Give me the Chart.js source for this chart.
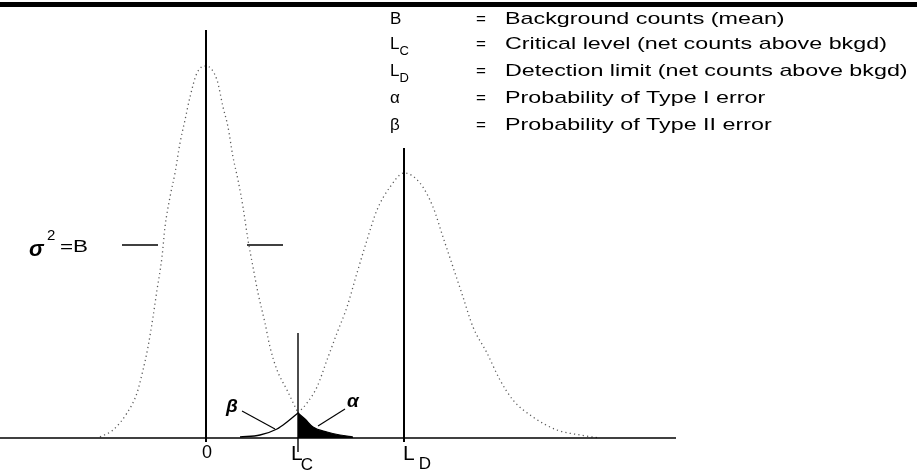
<!DOCTYPE html>
<html>
<head>
<meta charset="utf-8">
<script src="https://cdn.jsdelivr.net/npm/chart.js@4/dist/chart.umd.min.js"></script>
<style>
  html, body { margin: 0; padding: 0; background: #fff; }
  #wrap { width: 917px; height: 474px; position: relative; }
</style>
</head>
<body>
<div id="wrap"><canvas id="myChart"></canvas></div>
<script>
// x = distance from the background mean, y = height above the baseline (diagram units)

const bkgX = [-106, -93, -79, -69, -63, -58, -53, -49, -44, -41, -36, -31, -26, -21, -16, -9, 0, 11, 17, 22, 27, 32, 37, 42, 47, 52, 59, 64, 71, 81, 92];
const bkgY = [1, 8, 25, 45, 68, 91, 121, 148, 181, 211, 241, 265, 295, 318, 341, 365, 372, 358, 331, 311, 281, 258, 231, 198, 171, 145, 115, 91, 68, 48, 25];

// gross distribution (mean L_D), from L_C onwards
const grossX = [92, 101, 111, 121, 131, 141, 151, 161, 171, 184, 198, 214, 227, 237, 247, 257, 267, 281, 294, 307, 327, 351, 374, 394];
const grossY = [25, 35, 51, 78, 105, 131, 165, 198, 228, 251, 265, 255, 231, 201, 171, 141, 111, 85, 58, 38, 21, 8, 3, 0];

// alpha tail (background above L_C), shaded
const alphaX = [92, 99, 107, 121, 134, 147];
const alphaY = [25, 19, 11, 6, 3, 1];

// beta tail (gross below L_C), solid
const betaX = [34, 54, 71, 81, 92];
const betaY = [1, 3, 9, 16, 25];

// marked positions on the axis
const markX = [0, 92, 198];
const markLabels = ["0", "L|C", "L|D"];
const markTop = [408, 105, 290];
const markBottom = [-4, -14, -4];

// half-height ticks for sigma^2 = B
const sigmaY = 193;
const sigmaTicks = [[-84, -48], [41, 77]];

// legend
const legendSymbols = ["B", "L|C", "L|D", "α", "β"];
const legendTexts = [
  "Background counts (mean)",
  "Critical level (net counts above bkgd)",
  "Detection limit (net counts above bkgd)",
  "Probability of Type I error",
  "Probability of Type II error",
];

const toPoints = (xs, ys) => xs.map((x, i) => ({ x: x, y: ys[i] }));

const solid = (data, width) => ({
  data: data,
  borderColor: "#000",
  borderWidth: width,
  fill: false,
  pointRadius: 0,
});

const dotted = (data) => ({
  data: data,
  borderColor: "#5a5a5a",
  borderWidth: 1.3,
  borderDash: [1.2, 3.2],
  cubicInterpolationMode: "monotone",
  fill: false,
  pointRadius: 0,
});

function buildDatasets() {
  const sets = [];
  // top rule
  sets.push(solid([{ x: -206, y: 433.5 }, { x: 711, y: 433.5 }], 5));
  // baseline
  sets.push(solid([{ x: -206, y: 0 }, { x: 470, y: 0 }], 1.6));
  // verticals at 0, L_C, L_D
  markX.forEach((x, i) => {
    sets.push(solid([{ x: x, y: markBottom[i] }, { x: x, y: markTop[i] }], i === 1 ? 1.4 : 2));
  });
  // distributions
  sets.push(dotted(toPoints(bkgX, bkgY)));
  sets.push(dotted(toPoints(grossX, grossY)));
  sets.push({
    data: toPoints(alphaX, alphaY),
    borderColor: "#000",
    borderWidth: 1.2,
    backgroundColor: "#000",
    fill: "origin",
    cubicInterpolationMode: "monotone",
    pointRadius: 0,
  });
  sets.push({ ...solid(toPoints(betaX, betaY), 1.3), cubicInterpolationMode: "monotone" });
  // sigma ticks
  sigmaTicks.forEach((t) => sets.push(solid([{ x: t[0], y: sigmaY }, { x: t[1], y: sigmaY }], 1.5)));
  // pointers for beta and alpha
  sets.push(solid([{ x: 36, y: 27 }, { x: 69, y: 9 }], 1.1));
  sets.push(solid([{ x: 139, y: 29 }, { x: 112, y: 12 }], 1.1));
  return sets;
}

const FONT = "'Liberation Sans', Arial, sans-serif";

// text in the scan is wider than it is tall
function wideText(ctx, text, px, py, font, stretch) {
  ctx.save();
  ctx.font = font;
  ctx.translate(px, py);
  ctx.scale(stretch, 1);
  ctx.fillText(text, 0, 0);
  ctx.restore();
}

function drawSymbol(ctx, label, px, py, size, subSize, gap, drop) {
  const parts = label.split("|");
  ctx.font = size + "px " + FONT;
  ctx.fillText(parts[0], px, py);
  if (parts[1]) {
    const w = ctx.measureText(parts[0]).width;
    ctx.font = subSize + "px " + FONT;
    ctx.fillText(parts[1], px + w + gap, py + drop);
  }
}

const textPlugin = {
  id: "diagramText",
  afterDatasetsDraw(chart) {
    const { ctx } = chart;
    const sx = chart.scales.x;
    const sy = chart.scales.y;
    ctx.save();
    ctx.fillStyle = "#000";
    ctx.textBaseline = "middle";
    ctx.textAlign = "left";

    // legend block
    const rowY = [419, 394, 367, 340, 313];
    legendSymbols.forEach((s, i) => {
      const py = sy.getPixelForValue(rowY[i]);
      drawSymbol(ctx, s, sx.getPixelForValue(184), py, 17, 13, 0, 7);
      ctx.font = "17px " + FONT;
      ctx.fillText("=", sx.getPixelForValue(270), py);
      wideText(ctx, legendTexts[i], sx.getPixelForValue(299), py, "17px " + FONT, 1.37);
    });

    // axis labels
    const labY = sy.getPixelForValue(-16);
    ctx.textAlign = "center";
    ctx.font = "18px " + FONT;
    ctx.fillText(markLabels[0], sx.getPixelForValue(markX[0]) + 1, labY - 1);
    ctx.textAlign = "left";
    drawSymbol(ctx, markLabels[1], sx.getPixelForValue(markX[1]) - 7, labY, 21, 17, -2, 11);
    drawSymbol(ctx, markLabels[2], sx.getPixelForValue(markX[2]) - 1, labY, 21, 17, 4, 10);

    // sigma^2 = B
    ctx.font = "italic bold 22px " + FONT;
    ctx.fillText("σ", sx.getPixelForValue(-177), sy.getPixelForValue(188));
    ctx.font = "15px " + FONT;
    ctx.fillText("2", sx.getPixelForValue(-159), sy.getPixelForValue(202));
    wideText(ctx, "=B", sx.getPixelForValue(-146), sy.getPixelForValue(190), "16px " + FONT, 1.4);

    // alpha / beta labels
    ctx.font = "italic bold 19px " + FONT;
    ctx.textAlign = "center";
    ctx.fillText("β", sx.getPixelForValue(26), sy.getPixelForValue(31));
    ctx.fillText("α", sx.getPixelForValue(147), sy.getPixelForValue(36));
    ctx.restore();
  },
};

const ctx = document.getElementById("myChart").getContext("2d");
new Chart(ctx, {
  type: "line",
  data: { datasets: buildDatasets() },
  options: {
    responsive: true,
    maintainAspectRatio: false,
    animation: false,
    events: [],
    layout: { padding: 0 },
    plugins: { legend: { display: false }, tooltip: { enabled: false } },
    scales: {
      x: { type: "linear", min: -206, max: 711, display: false },
      y: { type: "linear", min: -36, max: 438, display: false },
    },
  },
  plugins: [textPlugin],
});
</script>
</body>
</html>
